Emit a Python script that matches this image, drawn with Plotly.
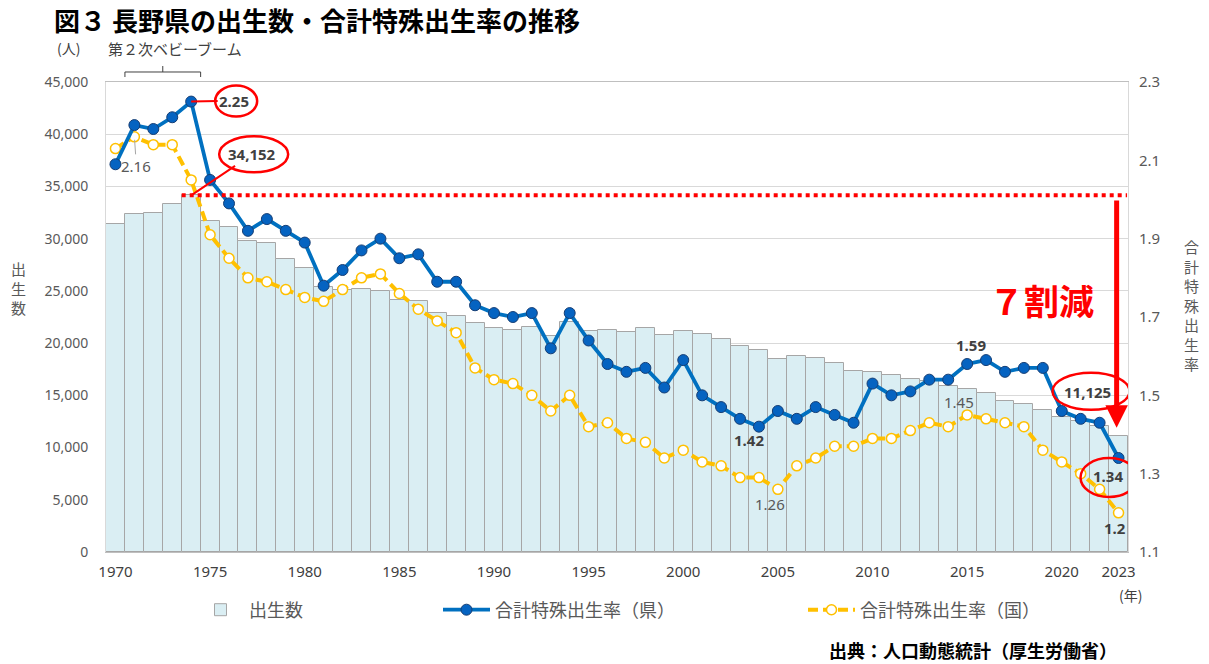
import plotly.graph_objects as go

# ---------------- data ----------------
years = list(range(1970, 2024))

births = [31400, 32350, 32450, 33300, 34152, 31700, 31100, 29800, 29600, 28050,
          27200, 25400, 25100, 25200, 25000, 24150, 24050, 22900, 22550, 21900,
          21400, 21250, 21550, 20650, 22000, 21150, 21250, 21100, 21450, 20750,
          21200, 20900, 20350, 19750, 19300, 18500, 18750, 18600, 18100, 17300,
          17200, 16900, 16600, 16350, 15850, 15600, 15200, 14500, 14200, 13550,
          12900, 12500, 12100, 11125]

tfr_pref = [2.09, 2.19, 2.18, 2.21, 2.25, 2.05, 1.99, 1.92, 1.95, 1.92,
            1.89, 1.78, 1.82, 1.87, 1.90, 1.85, 1.86, 1.79, 1.79, 1.73,
            1.71, 1.70, 1.71, 1.62, 1.71, 1.64, 1.58, 1.56, 1.57, 1.52,
            1.59, 1.50, 1.47, 1.44, 1.42, 1.46, 1.44, 1.47, 1.45, 1.43,
            1.53, 1.50, 1.51, 1.54, 1.54, 1.58, 1.59, 1.56, 1.57, 1.57,
            1.46, 1.44, 1.43, 1.34]

tfr_nat = [2.13, 2.16, 2.14, 2.14, 2.05, 1.91, 1.85, 1.80, 1.79, 1.77,
           1.75, 1.74, 1.77, 1.80, 1.81, 1.76, 1.72, 1.69, 1.66, 1.57,
           1.54, 1.53, 1.50, 1.46, 1.50, 1.42, 1.43, 1.39, 1.38, 1.34,
           1.36, 1.33, 1.32, 1.29, 1.29, 1.26, 1.32, 1.34, 1.37, 1.37,
           1.39, 1.39, 1.41, 1.43, 1.42, 1.45, 1.44, 1.43, 1.42, 1.36,
           1.33, 1.30, 1.26, 1.20]

x_ticks = [1970, 1975, 1980, 1985, 1990, 1995, 2000, 2005, 2010, 2015, 2020, 2023]

name_births = "出生数"
name_pref = "合計特殊出生率（県）"
name_nat = "合計特殊出生率（国）"

JP = "Noto Sans CJK JP"
NUM = "Noto Sans"
DARK = "#404040"
GREY = "#595959"
RED = "#FF0000"

def yr_idx(y):
    return years.index(y)

fig = go.Figure()

fig.add_trace(go.Bar(
    x=years, y=births, name=name_births, yaxis="y", legend="legend",
    showlegend=True,
    marker=dict(color="#DAEEF3", line=dict(color="#A6A6A6", width=1)),
))

fig.add_trace(go.Scatter(
    x=years, y=tfr_nat, name=name_nat, yaxis="y2", legend="legend3",
    mode="lines+markers", showlegend=True,
    line=dict(color="#FFC000", width=4, dash="10px,5px"),
    marker=dict(symbol="circle", size=10, color="white",
                line=dict(color="#FFC000", width=1.5)),
))

fig.add_trace(go.Scatter(
    x=years, y=tfr_pref, name=name_pref, yaxis="y2", legend="legend2",
    mode="lines+markers", showlegend=True,
    line=dict(color="#0070C0", width=3.8),
    marker=dict(symbol="circle", size=11, color="#0563C1",
                line=dict(color="#163E74", width=1)),
))

shapes = []
annotations = []

i74 = yr_idx(1974)
i23 = yr_idx(2023)

# red dotted line at 1974 births level
shapes.append(dict(type="line", xref="x", yref="y", x0=1973.5, x1=2023.45,
                   y0=births[i74], y1=births[i74],
                   line=dict(color=RED, width=4, dash="dot")))

def ellipse(xv, yv, yref, x0, x1, y0, y1):
    return dict(type="circle", xref="x", yref=yref,
                xsizemode="pixel", ysizemode="pixel",
                xanchor=xv, yanchor=yv, x0=x0, x1=x1, y0=y0, y1=y1,
                line=dict(color=RED, width=2.5), fillcolor="rgba(0,0,0,0)")

shapes.append(ellipse(1974, tfr_pref[i74], "y2", 24, 66, -15, 16))
shapes.append(ellipse(1974, births[i74], "y", 28, 97, 23, 59))
shapes.append(ellipse(2023, births[i23], "y", -66, 11, 26, 63))
shapes.append(ellipse(2023, tfr_pref[i23], "y2", -38, 19, -39, 0))

# baby boom bracket
shapes.append(dict(type="path", xref="x", yref="paper",
                   path="M 1970.5,1.0106 L 1970.5,1.0213 L 1974.5,1.0213 L 1974.5,1.0106 "
                        "M 1972.5,1.0213 L 1972.5,1.034",
                   line=dict(color=DARK, width=1)))

bold_font = dict(family=NUM, size=15, color=DARK)
norm_font = dict(family=NUM, size=15, color=GREY)

# 2.25 label with red connector
annotations.append(dict(x=1974, y=tfr_pref[i74], yref="y2", xref="x",
                        text=f"<b>{tfr_pref[i74]:.2f}</b>", showarrow=True,
                        ax=43, ay=-1, arrowhead=0, arrowwidth=2, arrowcolor=RED,
                        standoff=0, font=bold_font))
# 34,152 label with red connector
annotations.append(dict(x=1974, y=births[i74], yref="y", xref="x",
                        text=f"<b>{births[i74]:,}</b>", showarrow=True,
                        ax=61, ay=-41, arrowhead=0, arrowwidth=2, arrowcolor=RED,
                        standoff=0, font=bold_font))
# 11,125
annotations.append(dict(x=2023, y=births[i23], yref="y", xref="x",
                        text=f"<b>{births[i23]:,}</b>", showarrow=False,
                        xshift=-31, yshift=44, font=bold_font))
# 1.34
annotations.append(dict(x=2023, y=tfr_pref[i23], yref="y2", xref="x",
                        text=f"<b>{tfr_pref[i23]:.2f}</b>", showarrow=False,
                        xshift=-11, yshift=-18, font=bold_font))
# 1.2
annotations.append(dict(x=2023, y=tfr_nat[i23], yref="y2", xref="x",
                        text=f"<b>{tfr_nat[i23]:g}</b>", showarrow=False,
                        xshift=-4, yshift=-15, font=bold_font))
# 1.59
i16 = yr_idx(2016)
annotations.append(dict(x=2016, y=tfr_pref[i16], yref="y2", xref="x",
                        text=f"<b>{tfr_pref[i16]:.2f}</b>", showarrow=False,
                        xshift=-15, yshift=15, font=bold_font))
# 1.45 national
i15 = yr_idx(2015)
annotations.append(dict(x=2015, y=tfr_nat[i15], yref="y2", xref="x",
                        text=f"{tfr_nat[i15]:.2f}", showarrow=False,
                        xshift=-8, yshift=13, font=norm_font))
# 1.42
i04 = yr_idx(2004)
annotations.append(dict(x=2004, y=tfr_pref[i04], yref="y2", xref="x",
                        text=f"<b>{tfr_pref[i04]:.2f}</b>", showarrow=False,
                        xshift=-10, yshift=-13, font=bold_font))
# 1.26 national
i05 = yr_idx(2005)
annotations.append(dict(x=2005, y=tfr_nat[i05], yref="y2", xref="x",
                        text=f"{tfr_nat[i05]:.2f}", showarrow=False,
                        xshift=-8, yshift=-15, font=norm_font))
# 2.16 national with leader
i71 = yr_idx(1971)
annotations.append(dict(x=1971, y=tfr_nat[i71], yref="y2", xref="x",
                        text=f"{tfr_nat[i71]:.2f}", showarrow=True,
                        ax=2, ay=29, arrowhead=0, arrowwidth=1, arrowcolor="#A6A6A6",
                        standoff=3, font=norm_font))

# red arrow 7割減
annotations.append(dict(x=2022.9, y=11900, xref="x", yref="y",
                        ax=2022.9, ay=births[i74] - 350, axref="x", ayref="y",
                        text="", showarrow=True, arrowhead=2, arrowsize=0.9,
                        arrowwidth=5, arrowcolor=RED, standoff=0, startstandoff=0))
annotations.append(dict(x=2018.95, y=24150, xref="x", yref="y",
                        text="<b>７割減</b>", showarrow=False,
                        font=dict(family=JP, size=35, color=RED)))

# title and texts around the plot
annotations.append(dict(x=-0.0528, y=1.132, xref="paper", yref="paper",
                        xanchor="left", yanchor="middle",
                        text="<b>図３ 長野県の出生数・合計特殊出生率の推移</b>",
                        showarrow=False, font=dict(family=JP, size=26, color="#000000")))
annotations.append(dict(x=-0.0499, y=1.072, xref="paper", yref="paper",
                        xanchor="left", yanchor="middle", text="(人)", showarrow=False,
                        font=dict(family=JP, size=14, color=DARK)))
annotations.append(dict(x=0.0, y=1.072, xref="paper", yref="paper",
                        xanchor="left", yanchor="middle", text="第２次ベビーブーム",
                        showarrow=False, font=dict(family=JP, size=15, color=DARK)))
annotations.append(dict(x=-0.0861, y=0.5617, xref="paper", yref="paper",
                        xanchor="center", yanchor="middle", text="出<br>生<br>数",
                        showarrow=False, font=dict(family=JP, size=15, color=GREY)))
annotations.append(dict(x=1.0626, y=0.5255, xref="paper", yref="paper",
                        xanchor="center", yanchor="middle",
                        text="合<br>計<br>特<br>殊<br>出<br>生<br>率",
                        showarrow=False, font=dict(family=JP, size=15, color=GREY)))
annotations.append(dict(x=1.002, y=-0.0915, xref="paper", yref="paper",
                        xanchor="center", yanchor="middle", text="(年)",
                        showarrow=False, font=dict(family=JP, size=14, color=DARK)))
annotations.append(dict(x=0.705, y=-0.2085, xref="paper", yref="paper",
                        xanchor="left", yanchor="middle",
                        text="<b>出典：人口動態統計（厚生労働省）</b>",
                        showarrow=False, font=dict(family=JP, size=18, color="#000000")))

legend_common = dict(orientation="h", xref="container", yref="container",
                     yanchor="middle", xanchor="left", bgcolor="rgba(0,0,0,0)",
                     font=dict(family=JP, size=18, color=GREY), itemwidth=47,
                     visible=True)

fig.update_layout(
    width=1209, height=664, autosize=False,
    margin=dict(l=106, r=81, t=82, b=112, autoexpand=False),
    paper_bgcolor="white", plot_bgcolor="white",
    font=dict(family=JP, color=GREY),
    showlegend=True,
    bargap=0,
    xaxis=dict(range=[1969.5, 2023.5], tickvals=x_ticks, showgrid=False,
               showline=True, linecolor="#BFBFBF", linewidth=1, mirror=True,
               ticks="", zeroline=False, ticklabelstandoff=6, automargin=False,
               tickfont=dict(family=NUM, size=15, color=DARK)),
    yaxis=dict(range=[0, 45000], dtick=5000, tickformat=",", showgrid=True,
               gridcolor="#D9D9D9", gridwidth=1, zeroline=False,
               showline=True, linecolor="#D9D9D9", mirror=True, ticks="",
               ticklabelstandoff=14, automargin=False,
               tickfont=dict(family=NUM, size=14, color=GREY)),
    yaxis2=dict(range=[1.1, 2.3], dtick=0.2, tick0=1.1, tickformat=".1f",
                overlaying="y", side="right", showgrid=False, zeroline=False,
                ticks="", ticklabelstandoff=10, automargin=False,
                tickfont=dict(family=NUM, size=15, color=GREY)),
    legend=dict(legend_common, x=192 / 1209, y=1 - 610 / 664),
    legend2=dict(legend_common, x=438 / 1209, y=1 - 610 / 664),
    legend3=dict(legend_common, x=803 / 1209, y=1 - 610 / 664),
    shapes=shapes,
    annotations=annotations,
)

fig.write_html("out.html", config={"displayModeBar": False},
               post_script="document.body.style.margin='0';document.body.style.overflow='hidden';")
